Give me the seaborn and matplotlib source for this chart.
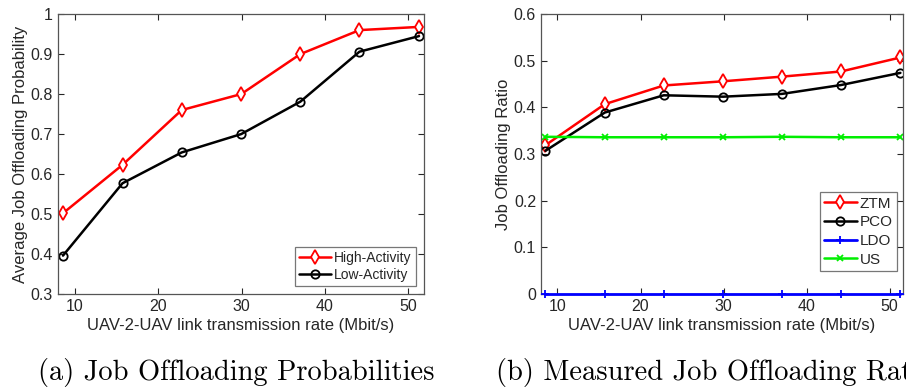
import matplotlib
matplotlib.use("Agg")
import matplotlib.pyplot as plt
import seaborn as sns
import pandas as pd

rate = [8.55, 15.7, 22.8, 29.95, 37.05, 44.15, 51.3]
high_activity = [0.502, 0.623, 0.760, 0.800, 0.900, 0.960, 0.968]
low_activity = [0.396, 0.577, 0.654, 0.700, 0.781, 0.906, 0.945]

ztm = [0.319, 0.407, 0.447, 0.456, 0.466, 0.477, 0.507]
pco = [0.307, 0.389, 0.426, 0.423, 0.429, 0.448, 0.474]
ldo = [0.0, 0.0, 0.0, 0.0, 0.0, 0.0, 0.0]
us = [0.337, 0.336, 0.336, 0.336, 0.337, 0.336, 0.336]

xlabel = "UAV-2-UAV link transmission rate (Mbit/s)"
caption_a = "(a) Job Offloading Probabilities"
caption_b = "(b) Measured Job Offloading Ratio"

sns.set_style("ticks")
plt.rcParams['font.family'] = ['Liberation Sans Narrow', 'Liberation Sans', 'DejaVu Sans']
TXT = '#262626'
SP = '#262626'
LAB = 12
TICK = 11.5

fig = plt.figure(figsize=(9.06, 3.92), dpi=100)
axa = fig.add_axes([0.064, 0.25, 0.404, 0.714])
axb = fig.add_axes([0.597, 0.25, 0.400, 0.714])

def style_ax(ax):
    ax.tick_params(direction='in', top=True, right=True, labelsize=TICK, colors=SP,
                   labelcolor=TXT, length=4, width=0.8)
    for lab in ax.get_xticklabels() + ax.get_yticklabels():
        lab.set_family(['Liberation Sans', 'DejaVu Sans'])
    for s in ax.spines.values():
        s.set_color('#555555')
        s.set_linewidth(0.9)

dfa = pd.DataFrame({'x': rate, 'High-Activity': high_activity, 'Low-Activity': low_activity})
sns.lineplot(data=dfa, x='x', y='High-Activity', ax=axa, color='red', marker='d',
             markersize=7, markerfacecolor='white', markeredgecolor='red',
             markeredgewidth=1.3, linewidth=1.8, label='High-Activity')
sns.lineplot(data=dfa, x='x', y='Low-Activity', ax=axa, color='black', marker='o',
             markersize=6, markerfacecolor='none', markeredgecolor='black',
             markeredgewidth=1.3, linewidth=1.8, label='Low-Activity')
axa.set_xlim(7.95, 51.9)
axa.set_ylim(0.3, 1.0)
axa.set_xticks([10, 20, 30, 40, 50])
axa.set_yticks([0.3, 0.4, 0.5, 0.6, 0.7, 0.8, 0.9, 1.0])
axa.set_yticklabels(['0.3', '0.4', '0.5', '0.6', '0.7', '0.8', '0.9', '1'])
axa.set_xlabel(xlabel, fontsize=LAB, color=TXT, labelpad=3)
axa.set_ylabel('Average Job Offloading Probability', fontsize=LAB, color=TXT, labelpad=2)
style_ax(axa)
leg = axa.legend(loc='lower right', fontsize=10, frameon=True, fancybox=False,
                 edgecolor='#555555', handlelength=2.3, handletextpad=0.2,
                 borderpad=0.3, labelspacing=0.2, borderaxespad=0.6)
leg.get_frame().set_linewidth(0.9)
for t in leg.get_texts():
    t.set_family(['Liberation Sans', 'DejaVu Sans'])

dfb = pd.DataFrame({'x': rate, 'ZTM': ztm, 'PCO': pco, 'LDO': ldo, 'US': us})
sns.lineplot(data=dfb, x='x', y='ZTM', ax=axb, color='red', marker='d',
             markersize=7, markerfacecolor='white', markeredgecolor='red',
             markeredgewidth=1.3, linewidth=1.8, label='ZTM')
sns.lineplot(data=dfb, x='x', y='PCO', ax=axb, color='black', marker='o',
             markersize=6, markerfacecolor='none', markeredgecolor='black',
             markeredgewidth=1.3, linewidth=1.8, label='PCO')
sns.lineplot(data=dfb, x='x', y='LDO', ax=axb, color='#0000ff', marker='+',
             markersize=6, markeredgecolor='#0000ff', markeredgewidth=1.3,
             linewidth=2.0, label='LDO', clip_on=False, zorder=4)
sns.lineplot(data=dfb, x='x', y='US', ax=axb, color='#00ee00', marker='x',
             markersize=4, markeredgecolor='#00ee00', markeredgewidth=1.3,
             linewidth=1.8, label='US')
axb.set_xlim(8.0, 51.65)
axb.set_ylim(0, 0.6)
axb.set_xticks([10, 20, 30, 40, 50])
axb.set_yticks([0, 0.1, 0.2, 0.3, 0.4, 0.5, 0.6])
axb.set_yticklabels(['0', '0.1', '0.2', '0.3', '0.4', '0.5', '0.6'])
axb.set_xlabel(xlabel, fontsize=LAB, color=TXT, labelpad=3)
axb.set_ylabel('Job Offloading Ratio', fontsize=LAB, color=TXT, labelpad=2)
style_ax(axb)
legb = axb.legend(loc='lower right', fontsize=11, frameon=True, fancybox=False,
                  edgecolor='#555555', handlelength=2.1, handletextpad=0.2,
                  borderpad=0.3, labelspacing=0.3, borderaxespad=0.4,
                  bbox_to_anchor=(1.0, 0.06))
legb.get_frame().set_linewidth(0.9)
for t in legb.get_texts():
    t.set_family(['Liberation Sans', 'DejaVu Sans'])

fig.text(0.2605, 0.05, caption_a, fontsize=20.5, family=['cmr10', 'DejaVu Serif'],
         ha='center', va='center', color='black')
fig.text(0.548, 0.05, caption_b, fontsize=20.5, family=['cmr10', 'DejaVu Serif'],
         ha='left', va='center', color='black')

fig.savefig('out.png', dpi=100)
